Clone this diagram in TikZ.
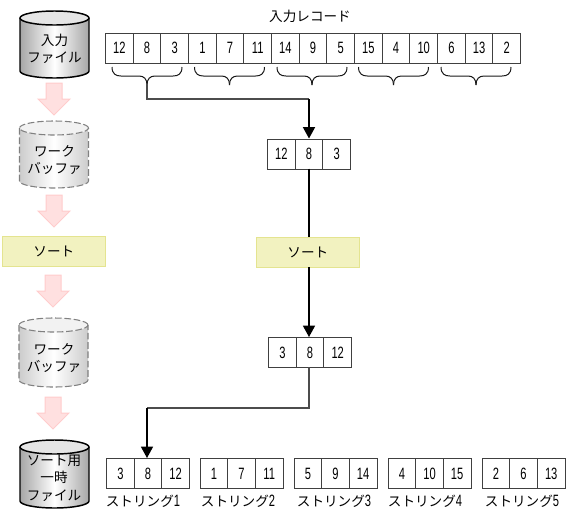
\documentclass[tikz,border=0pt]{standalone}
\usepackage{fontspec}
\setmainfont{Noto Sans CJK JP}
\newfontfamily\dgfont[FakeStretch=0.68]{Liberation Sans}
\usetikzlibrary{arrows.meta}
\definecolor{sortfill}{HTML}{F2F2C0}
\definecolor{sortline}{HTML}{E4E490}
\definecolor{pinkfill}{HTML}{FFE0E0}
\definecolor{pinkline}{HTML}{FFCCCC}
\newcommand{\lbl}{\fontsize{10.2pt}{13pt}\selectfont}
\newcommand{\dg}[1]{{\dgfont\fontsize{12.3pt}{13pt}\selectfont #1}}
\tikzset{
 x=0.75pt,y=-0.75pt,
 cellbox/.style={draw=black!75,line width=0.75pt,fill=white,minimum width=20.8pt,minimum height=22.6pt,inner sep=0pt,font=\lbl,anchor=north west},
 sortbox/.style={draw=sortline,line width=0.75pt,fill=sortfill,minimum width=77pt,minimum height=22.5pt,inner sep=0pt,font=\lbl,anchor=north west},
 plain/.style={font=\lbl,inner sep=0pt},
 flow/.style={draw=black,line width=1.1pt},
 flowthin/.style={draw=black!70,line width=0.9pt},
 tip/.style={-{Triangle[length=8.5pt,width=9pt]}},
 brace/.style={draw=black!90,line width=0.75pt},
 pinkarrow/.style={draw=pinkline,fill=pinkfill,line width=0.75pt},
}
% #1 x, #2 y, #3 height, #4 outline style, #5 edge shade, #6 top fill
\newcommand{\cyl}[6]{%
 \begin{scope}[shift={(#1,#2)}]
 \shade[left color=#5,right color=#5,middle color=white]
   (0,7) arc[start angle=180,end angle=360,x radius=34.5pt*0.75,y radius=7pt*0.75] -- (69,#3-7)
   arc[start angle=0,end angle=-180,x radius=34.5pt*0.75,y radius=7pt*0.75] -- cycle;
 \path[fill=#6] (34.5,7) ellipse[x radius=34.5pt*0.75,y radius=7pt*0.75];
 \draw[#4] (0,7) -- (0,#3-7) arc[start angle=180,end angle=360,x radius=34.5pt*0.75,y radius=7pt*0.75] -- (69,7);
 \draw[#4] (34.5,7) ellipse[x radius=34.5pt*0.75,y radius=7pt*0.75];
 \end{scope}}
\newcommand{\parrow}[2]{%
 \path[pinkarrow] (#1-8,#2) -- (#1+8,#2) -- (#1+8,#2+16) -- (#1+16,#2+16) -- (#1,#2+32) -- (#1-16,#2+16) -- (#1-8,#2+16) -- cycle;}
\newcommand{\brc}[1]{%
 \draw[brace] (#1-35,67) .. controls (#1-35,74) and (#1-31,76) .. (#1-26,76) -- (#1-8,76) .. controls (#1-3,76) and (#1,79) .. (#1,85);
 \draw[brace] (#1+35,67) .. controls (#1+35,74) and (#1+31,76) .. (#1+26,76) -- (#1+8,76) .. controls (#1+3,76) and (#1,79) .. (#1,85);}
\begin{document}
\begin{tikzpicture}
\useasboundingbox (0,0) rectangle (571,522);
% left column
\cyl{20}{11}{67}{black,line width=1.1pt}{black!35}{black!10}
\node[plain,align=center] (infile) at (54.5,49) {入力\\ファイル};
\parrow{54}{83}
\cyl{19.5}{121}{67}{black!50,dash pattern=on 5pt off 2pt,line width=0.8pt}{black!20}{black!5}
\node[plain,align=center] (work1) at (54.5,160) {ワーク\\バッファ};
\parrow{54}{195}
\node[sortbox] (sortL) at (2,236) {ソート};
\parrow{53}{275}
\cyl{19}{318}{69}{black!50,dash pattern=on 5pt off 2pt,line width=0.8pt}{black!20}{black!5}
\node[plain,align=center] (work2) at (54,358) {ワーク\\バッファ};
\parrow{53}{397}
\cyl{20}{440}{68}{black,line width=1.1pt}{black!35}{black!10}
\node[plain,align=center] (tmp) at (54,478) {ソート用\\一時\\ファイル};
% title
\node[plain] (title) at (310,16) {入力レコード};
% top row
\foreach \v [count=\i from 0] in {12,8,3,1,7,11,14,9,5,15,4,10,6,13,2}{
  \node[cellbox] (t\i) at ({105+27.67*\i},32.5) {\dg{\v}};
}
\brc{147}\brc{229.5}\brc{312}\brc{393.5}\brc{476}
\coordinate (tipA) at (147,85);
% middle
\foreach \v [count=\i from 0] in {12,8,3}{
  \node[cellbox] (m\i) at ({267+27.67*\i},138.5) {\dg{\v}};
}
\node[sortbox] (sortM) at (256,237) {ソート};
\foreach \v [count=\i from 0] in {3,8,12}{
  \node[cellbox] (n\i) at ({268+27.67*\i},337) {\dg{\v}};
}
% bottom strings
\foreach \xx/\a/\b/\c/\k/\lx in {106/3/8/12/1/143,199.5/1/7/11/2/238,293.5/5/9/14/3/334,387.5/4/10/15/4/425,481.5/2/6/13/5/522}{
  \node[cellbox] (s\k a) at (\xx,458) {\dg{\a}};
  \node[cellbox] (s\k b) at (\xx+27.67,458) {\dg{\b}};
  \node[cellbox] (s\k c) at (\xx+55.33,458) {\dg{\c}};
  \node[plain] (lab\k) at (\lx,501) {ストリング\dg{\k}};
}
% connectors
\draw[flowthin] (tipA) -- (147,99) -- (309,99);
\draw[flow,tip] (309,99) -- (309,138.5);
\draw[flow] (309,168.5) -- (309,237);
\draw[flow,tip] (309,267) -- (309,337);
\draw[flowthin] (309,367) -- (309,408) -- (147,408);
\draw[flow,tip] (147,408) -- (147,458);
\end{tikzpicture}
\end{document}
